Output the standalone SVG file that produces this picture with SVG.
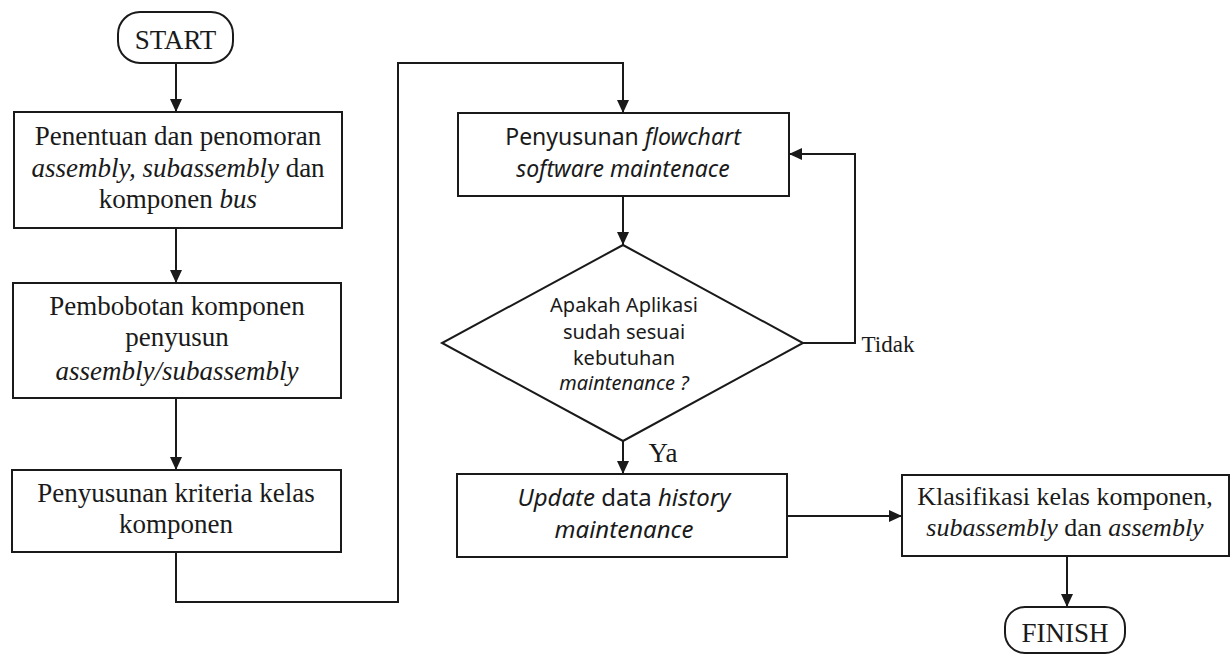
<svg xmlns="http://www.w3.org/2000/svg" width="1231" height="655" viewBox="0 0 1231 655">
<style>
.box{fill:none;stroke:#1a1a1a;stroke-width:2}
.ln{fill:none;stroke:#1a1a1a;stroke-width:2}
.t{font-family:"Liberation Serif","Times New Roman",serif;font-size:27px;fill:#1a1a1a;text-anchor:middle}
.s{font-family:"Noto Sans","DejaVu Sans",sans-serif;font-size:23px;fill:#1a1a1a;text-anchor:middle}
.d{font-family:"Noto Sans","DejaVu Sans",sans-serif;font-size:20px;fill:#1a1a1a;text-anchor:middle}
.i{font-style:italic}
</style>
<defs>
<marker id="ah" markerWidth="14" markerHeight="14" refX="13" refY="7" orient="auto" markerUnits="userSpaceOnUse">
<path d="M0,1 L13,7 L0,13 Z" fill="#1a1a1a"/>
</marker>
</defs>
<rect width="1231" height="655" fill="#ffffff"/>
<g id="connectors">
<path class="ln" d="M176,63 V112" marker-end="url(#ah)"/>
<path class="ln" d="M176,228 V283" marker-end="url(#ah)"/>
<path class="ln" d="M176,398 V470" marker-end="url(#ah)"/>
<path class="ln" d="M176,552 V602 H398 V63 H623 V113" marker-end="url(#ah)"/>
<path class="ln" d="M623,196 V245" marker-end="url(#ah)"/>
<path class="ln" d="M803,343 H855 V154 H789" marker-end="url(#ah)"/>
<path class="ln" d="M623,441 V474" marker-end="url(#ah)"/>
<path class="ln" d="M787,516 H902" marker-end="url(#ah)"/>
<path class="ln" d="M1067,556 V607" marker-end="url(#ah)"/>
<text class="t" x="888" y="352" style="font-size:23px">Tidak</text>
<text class="t" x="663" y="462">Ya</text>
</g>
<g id="start">
<rect class="box" x="118" y="12" width="115" height="51" rx="22"/>
<text class="t" x="175.5" y="49">START</text>
</g>
<g id="box1">
<rect class="box" x="14" y="112" width="328" height="116"/>
<text class="t" x="178" y="145">Penentuan dan penomoran</text>
<text class="t" x="178" y="177"><tspan class="i">assembly, subassembly</tspan> dan</text>
<text class="t" x="178" y="208">komponen <tspan class="i">bus</tspan></text>
</g>
<g id="box2">
<rect class="box" x="13" y="283" width="328" height="115"/>
<text class="t" x="177" y="315">Pembobotan komponen</text>
<text class="t" x="177" y="346">penyusun</text>
<text class="t i" x="177" y="380">assembly/subassembly</text>
</g>
<g id="box3">
<rect class="box" x="12" y="470" width="329" height="82"/>
<text class="t" x="176" y="502">Penyusunan kriteria kelas</text>
<text class="t" x="176" y="533">komponen</text>
</g>
<g id="box4">
<rect class="box" x="458" y="113" width="331" height="83"/>
<text class="s" x="623" y="145">Penyusunan <tspan class="i">flowchart</tspan></text>
<text class="s i" x="623" y="177">software maintenace</text>
</g>
<g id="decision">
<path class="box" d="M623,245 L803,343 L623,441 L442,343 Z"/>
<text class="d" x="624" y="312">Apakah Aplikasi</text>
<text class="d" x="624" y="339">sudah sesuai</text>
<text class="d" x="624" y="365">kebutuhan</text>
<text class="d i" x="624" y="390">maintenance ?</text>
</g>
<g id="box5">
<rect class="box" x="457" y="474" width="330" height="83"/>
<text class="s" x="624" y="506" style="font-size:24px"><tspan class="i">Update</tspan> data <tspan class="i">history</tspan></text>
<text class="s i" x="624" y="538" style="font-size:24px">maintenance</text>
</g>
<g id="box6">
<rect class="box" x="902" y="475" width="327" height="81"/>
<text class="t" x="1065" y="505" style="font-size:26px">Klasifikasi kelas komponen,</text>
<text class="t" x="1065" y="536" style="font-size:26px"><tspan class="i">subassembly</tspan> dan <tspan class="i">assembly</tspan></text>
</g>
<g id="finish">
<rect class="box" x="1005" y="607" width="120" height="46" rx="20"/>
<text class="t" x="1065" y="642">FINISH</text>
</g>
</svg>
